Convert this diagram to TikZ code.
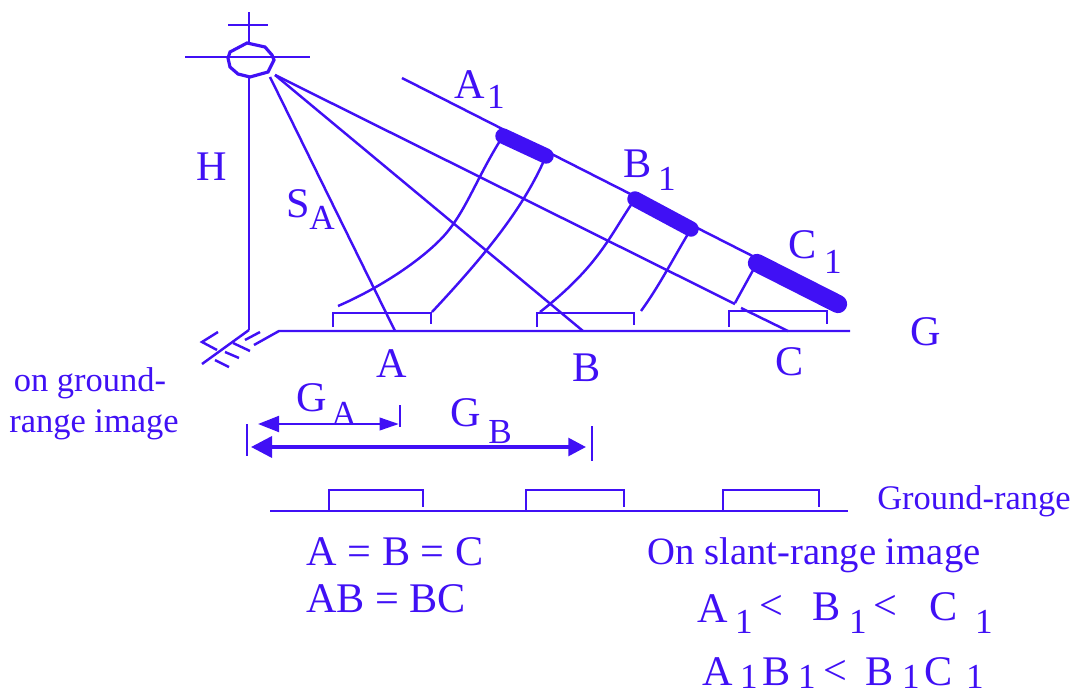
\documentclass[tikz,border=0pt]{standalone}
\usepackage{fontspec}
\setmainfont{Liberation Serif}
\usetikzlibrary{arrows.meta}
\definecolor{inkblue}{HTML}{4010F5}
\tikzset{
  lbl/.style={inkblue, inner sep=0pt, font=\fontsize{12}{14}\selectfont},
  sublbl/.style={inkblue, inner sep=0pt, font=\fontsize{10}{12}\selectfont},
  smalllbl/.style={inkblue, inner sep=0pt, font=\fontsize{9.8}{12}\selectfont},
  wire/.style={inkblue, line width=0.7pt},
  strip/.style={inkblue, line width=4.4pt, line cap=round},
  dimarrow/.style={inkblue, line width=0.8pt, {Triangle[length=6pt,width=4.5pt]}-{Triangle[length=5.5pt,width=3.5pt]}}
}
\begin{document}
\begin{tikzpicture}[x=0.01cm, y=-0.01cm]
  \useasboundingbox (0,0) rectangle (1075,694);
  % satellite
  \coordinate (antT) at (249,12);
  \coordinate (antB) at (249,43);
  \coordinate (barL) at (228,25);
  \coordinate (barR) at (268,25);
  \coordinate (wingL) at (185,57);
  \coordinate (wingR) at (310,57);
  \coordinate (nadirT) at (249,77);
  \coordinate (nadirB) at (249,330);
  \coordinate (sat) at (275,75);
  \draw[wire] (antT)--(antB);
  \draw[wire] (barL)--(barR);
  \draw[wire] (wingL)--(wingR);
  \draw[wire] (nadirT)--(nadirB);
  \draw[wire, line width=0.9pt] (230,52)--(247,43)--(265,47)--(272,55)--(274,60)--(268,72)--(250,77)--(238,74)--(230,67)--(228,58)--cycle;
  % ground
  \coordinate (grL) at (254,345);
  \coordinate (grK) at (279,331);
  \coordinate (grR) at (850,331);
  \coordinate (footA) at (395,331);
  \coordinate (footB) at (583,331);
  \coordinate (footC) at (788,331);
  \draw[wire] (grL)--(grK)--(grR);
  \draw[wire] (nadirB)--(202,364);
  \draw[wire] (218,332)--(202,342)--(217,350);
  \draw[wire] (233,343)--(250,351);
  \draw[wire] (225,352)--(239,358);
  \draw[wire] (215,360)--(229,367);
  \draw[wire] (245,340)--(260,332);
  % slant lines
  \coordinate (satA) at (270,77);
  \coordinate (midC) at (735,304);
  \coordinate (midCb) at (741,308);
  \draw[wire] (satA)--(footA);
  \draw[wire] (sat)--(footB);
  \draw[wire] (sat)--(midC);
  \draw[wire] (midCb)--(footC);
  % slant range
  \coordinate (slT) at (402,78);
  \coordinate (slB) at (845,303);
  \coordinate (aL) at (503,136);
  \coordinate (aR) at (546,156);
  \coordinate (bL) at (635,199);
  \coordinate (bR) at (691,229);
  \coordinate (cL) at (757,263);
  \coordinate (cR) at (838,304);
  \draw[wire] (slT)--(slB);
  \draw[strip] (aL)--(aR);
  \draw[strip] (bL)--(bR);
  \draw[strip, line width=5.2pt] (cL)--(cR);
  % arcs
  \draw[wire] (aL) .. controls (475,180) and (465,215) .. (440,240) .. controls (415,265) and (375,290) .. (338,306);
  \draw[wire] (aR) .. controls (525,205) and (490,250) .. (432,312);
  \draw[wire] (bL) .. controls (610,235) and (600,265) .. (540,312);
  \draw[wire] (bR) .. controls (675,255) and (660,285) .. (641,311);
  \draw[wire] (cL)--(735,303);
  % footprints
  \draw[wire] (333,327)--(333,313)--(431,313)--(431,324);
  \draw[wire] (537,327)--(537,313)--(634,313)--(634,325);
  \draw[wire] (729,327)--(729,311)--(827,311)--(827,324);
  % distances
  \coordinate (gaL) at (258,424);
  \coordinate (gaR) at (399,424);
  \coordinate (gbL) at (251,447);
  \coordinate (gbR) at (586,447);
  \draw[dimarrow] (gaL)--(gaR);
  \draw[dimarrow, line width=1pt, {Triangle[length=6pt,width=6pt]}-{Triangle[length=5pt,width=5pt]}] (gbL)--(gbR);
  \draw[wire] (400,405)--(400,427);
  \draw[wire] (247,424)--(247,456);
  \draw[wire] (592,426)--(592,461);
  % ground-range image
  \draw[wire] (270,511)--(848,511);
  \draw[wire] (329,511)--(329,490)--(423,490)--(423,507);
  \draw[wire] (526,511)--(526,490)--(624,490)--(624,507);
  \draw[wire] (723,511)--(723,490)--(819,490)--(819,507);
  % labels
  \node[lbl] (labH) at (212,167) {H};
  \node[lbl] (labS) at (298,204) {S};
  \node[sublbl] (labSa) at (322,218) {A};
  \node[lbl] (labA1) at (470,85) {A};
  \node[sublbl] (labA1s) at (496,97) {1};
  \node[lbl] (labB1) at (638,164) {B};
  \node[sublbl] (labB1s) at (667,179) {1};
  \node[lbl] (labC1) at (803,245) {C};
  \node[sublbl] (labC1s) at (833,262) {1};
  \node[lbl] (labG) at (926,332) {G};
  \node[lbl] (labA) at (392,364) {A};
  \node[lbl] (labB) at (587,368) {B};
  \node[lbl] (labC) at (790,362) {C};
  \node[lbl] (labGa) at (312,398) {G};
  \node[sublbl] (labGas) at (344,414) {A};
  \node[lbl] (labGb) at (466,413) {G};
  \node[sublbl] (labGbs) at (500,432) {B};
  \node[smalllbl] (onground) at (90,383) {on ground-};
  \node[smalllbl] (rangeimg) at (94,425) {range image};
  \node[smalllbl] (grange) at (974,501) {Ground-range};
  \node[lbl] (eqA) at (395,552) {A = B = C};
  \node[lbl] (eqB) at (386,599) {AB = BC};
  \node[lbl, font=\fontsize{11}{13}\selectfont] (onslant) at (814,555) {On slant-range image};
  \node[lbl] (ineqA) at (713,609) {A};
  \node[sublbl] (ineqAs) at (744,622) {1};
  \node[lbl] (ineqLa) at (771,607) {<};
  \node[lbl] (ineqB) at (827,607) {B};
  \node[sublbl] (ineqBs) at (858,622) {1};
  \node[lbl] (ineqLb) at (885,607) {<};
  \node[lbl] (ineqC) at (944,607) {C};
  \node[sublbl] (ineqCs) at (984,622) {1};
  \node[lbl] (rowA) at (718,672) {A};
  \node[sublbl] (rowAs) at (749,677) {1};
  \node[lbl] (rowB) at (777,672) {B};
  \node[sublbl] (rowBs) at (807,677) {1};
  \node[lbl] (rowL) at (835,672) {<};
  \node[lbl] (rowC) at (880,672) {B};
  \node[sublbl] (rowCs) at (911,677) {1};
  \node[lbl] (rowD) at (939,672) {C};
  \node[sublbl] (rowDs) at (975,677) {1};
\end{tikzpicture}
\end{document}
